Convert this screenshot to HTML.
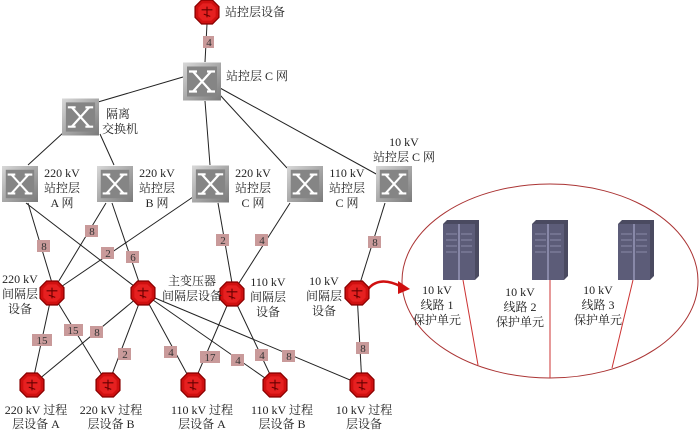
<!DOCTYPE html>
<html><head><meta charset="utf-8"><style>
html,body{margin:0;padding:0;background:#fff}
svg{display:block}
text{font-family:"Liberation Serif","Noto Serif CJK SC",serif;font-size:12px;fill:#222}
.el{font-size:11px;text-anchor:middle;fill:#333}
</style></head><body>
<svg width="700" height="432" viewBox="0 0 700 432" xmlns="http://www.w3.org/2000/svg">
<defs>
<linearGradient id="sg" x1="0" y1="0" x2="1" y2="1"><stop offset="0" stop-color="#d8d8d8"/><stop offset="1" stop-color="#7a7a7a"/></linearGradient>
<symbol id="sw" viewBox="0 0 38 38">
<rect x="0" y="0" width="38" height="38" fill="url(#sg)"/>
<rect x="4" y="4" width="30" height="30" fill="#858585"/>
<g stroke="#fff" stroke-width="2.2" fill="none"><path d="M10 9 L28 29 M28 9 L10 29"/><path d="M6 9 H14 M24 9 H32 M6 29 H14 M24 29 H32"/></g>
</symbol>
<symbol id="oc" viewBox="0 0 24 24">
<polygon points="7,1 17,1 23,7 23,17 17,23 7,23 1,17 1,7" fill="#d01010" stroke="#8a0000" stroke-width="1.2"/>
<polygon points="8,4 16,4 20,8 20,16 16,20 8,20 4,16 4,8" fill="#e62020"/>
<path d="M7 10 H17 M12 7 V17 M9 14 L15 16" stroke="#600" stroke-width="1" fill="none"/>
</symbol>
<symbol id="srv" viewBox="0 0 36 60">
<polygon points="0,4 4,0 36,0 36,56 32,60 0,60" fill="#4a4a60"/>
<rect x="0" y="4" width="32" height="56" fill="#5c5c78"/>
<rect x="15" y="4" width="2" height="56" fill="#8888a8"/>
<g stroke="#8a8aa8" stroke-width="1"><path d="M3 14H14M3 20H14M3 26H14M3 32H14M18 14H29M18 20H29M18 26H29M18 32H29"/></g>
</symbol>
</defs>
<g stroke="#222" stroke-width="1" fill="none">
<path d="M207 24L205 62"/>
<path d="M183 77L98 102"/>
<path d="M64 132L28 165M100 134L114 165"/>
<path d="M205 101L210 165"/>
<path d="M220 95L287 168"/>
<path d="M220 88L378 175"/>
<path d="M28 203L52 283M26 203L143 293"/>
<path d="M106 203L57 284M112 203L140 285"/>
<path d="M193 197L52 293"/>
<path d="M218 203L232 283"/>
<path d="M290 203L232 294"/>
<path d="M385 203L357 293"/>
<path d="M52 293L32 385M52 293L108 385"/>
<path d="M143 293L32 385M143 293L108 385M143 293L193 385M143 293L275 385M143 293L362 385"/>
<path d="M232 294L193 385M232 294L275 385"/>
<path d="M357 293L362 385"/>
</g>
<ellipse cx="550" cy="281" rx="148" ry="97" fill="none" stroke="#a33" stroke-width="1"/>
<g stroke="#c33" stroke-width="1"><path d="M463 280L478 365M550 280L550 378M633 280L612 368"/></g>
<path d="M365 294 C372 280 385 278 402 287" stroke="#d01010" stroke-width="2.5" fill="none"/>
<polygon points="398,281 410,289 398,294" fill="#d01010"/>
<use href="#sw" x="183" y="62" width="38" height="39"/>
<use href="#sw" x="62" y="98" width="37" height="38"/>
<use href="#sw" x="2" y="165" width="36" height="38"/>
<use href="#sw" x="97" y="165" width="36" height="38"/>
<use href="#sw" x="192" y="165" width="37" height="38"/>
<use href="#sw" x="287" y="165" width="36" height="38"/>
<use href="#sw" x="376" y="165" width="36" height="38"/>
<use href="#oc" x="194" y="-1" width="26" height="26"/>
<use href="#oc" x="39" y="280" width="26" height="26"/>
<use href="#oc" x="130" y="280" width="26" height="26"/>
<use href="#oc" x="219" y="281" width="26" height="26"/>
<use href="#oc" x="344" y="280" width="26" height="26"/>
<use href="#oc" x="19" y="372" width="26" height="26"/>
<use href="#oc" x="95" y="372" width="26" height="26"/>
<use href="#oc" x="180" y="372" width="26" height="26"/>
<use href="#oc" x="262" y="372" width="26" height="26"/>
<use href="#oc" x="349" y="372" width="26" height="26"/>
<use href="#srv" x="443" y="220" width="36" height="60"/>
<use href="#srv" x="532" y="220" width="36" height="60"/>
<use href="#srv" x="618" y="220" width="36" height="60"/>
<g fill="#c99a9a">
<rect x="203" y="36" width="11" height="12"/>
<rect x="37" y="240" width="13" height="12"/><rect x="85" y="225" width="13" height="12"/><rect x="126" y="251" width="13" height="12"/><rect x="101" y="247" width="13" height="12"/>
<rect x="216" y="234" width="13" height="12"/><rect x="255" y="234" width="13" height="12"/><rect x="368" y="236" width="13" height="12"/>
<rect x="32" y="334" width="20" height="12"/><rect x="64" y="324" width="19" height="12"/><rect x="90" y="326" width="13" height="12"/><rect x="118" y="348" width="13" height="12"/><rect x="164" y="346" width="13" height="12"/>
<rect x="200" y="351" width="20" height="12"/><rect x="231" y="354" width="13" height="12"/><rect x="255" y="349" width="13" height="12"/><rect x="282" y="350" width="13" height="12"/><rect x="356" y="342" width="13" height="12"/>
</g>
<g class="el">
<text class="el" x="209" y="46">4</text>
<text class="el" x="44" y="250">8</text><text class="el" x="92" y="235">8</text><text class="el" x="133" y="261">6</text><text class="el" x="108" y="257">2</text>
<text class="el" x="223" y="244">2</text><text class="el" x="262" y="244">4</text><text class="el" x="375" y="246">8</text>
<text class="el" x="42" y="344">15</text><text class="el" x="73" y="334">15</text><text class="el" x="97" y="336">8</text><text class="el" x="125" y="358">2</text><text class="el" x="171" y="356">4</text>
<text class="el" x="210" y="361">17</text><text class="el" x="238" y="364">4</text><text class="el" x="262" y="359">4</text><text class="el" x="289" y="360">8</text><text class="el" x="363" y="352">8</text>
</g>
<g text-anchor="start">
<text x="225" y="16">站控层设备</text>
<text x="226" y="80">站控层 C 网</text>
<text x="106" y="118">隔离</text><text x="102" y="133">交换机</text>
</g>
<g text-anchor="middle">
<text x="62" y="177">220 kV</text><text x="62" y="192">站控层</text><text x="62" y="207">A 网</text>
<text x="157" y="177">220 kV</text><text x="157" y="192">站控层</text><text x="157" y="207">B 网</text>
<text x="253" y="177">220 kV</text><text x="253" y="192">站控层</text><text x="253" y="207">C 网</text>
<text x="347" y="177">110 kV</text><text x="347" y="192">站控层</text><text x="347" y="207">C 网</text>
<text x="404" y="146">10 kV</text><text x="404" y="161">站控层 C 网</text>
<text x="20" y="283">220 kV</text><text x="20" y="298">间隔层</text><text x="20" y="313">设备</text>
<text x="192" y="285">主变压器</text><text x="192" y="300">间隔层设备</text>
<text x="268" y="286">110 kV</text><text x="268" y="301">间隔层</text><text x="268" y="316">设备</text>
<text x="324" y="285">10 kV</text><text x="324" y="300">间隔层</text><text x="324" y="315">设备</text>
<text x="437" y="294">10 kV</text><text x="437" y="309">线路 1</text><text x="437" y="324">保护单元</text>
<text x="520" y="296">10 kV</text><text x="520" y="311">线路 2</text><text x="520" y="326">保护单元</text>
<text x="598" y="294">10 kV</text><text x="598" y="309">线路 3</text><text x="598" y="324">保护单元</text>
<text x="36" y="414">220 kV 过程</text><text x="36" y="428">层设备 A</text>
<text x="111" y="414">220 kV 过程</text><text x="111" y="428">层设备 B</text>
<text x="202" y="414">110 kV 过程</text><text x="202" y="428">层设备 A</text>
<text x="282" y="414">110 kV 过程</text><text x="282" y="428">层设备 B</text>
<text x="364" y="414">10 kV 过程</text><text x="364" y="428">层设备</text>
</g>
</svg>
</body></html>
